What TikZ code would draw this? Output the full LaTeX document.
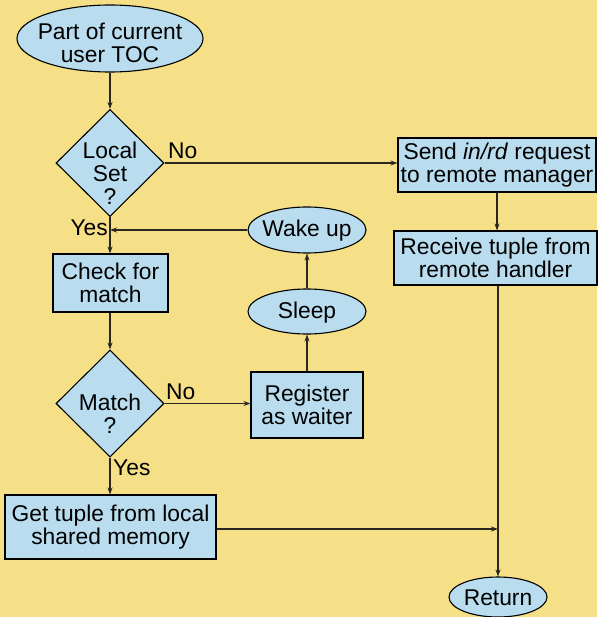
\documentclass[tikz,border=0pt]{standalone}
\usepackage{fontspec}
\setmainfont{Liberation Sans}
\usetikzlibrary{shapes.geometric,arrows.meta,calc}
\definecolor{paper}{RGB}{245,223,135}
\definecolor{boxfill}{RGB}{185,221,238}
\definecolor{ink}{RGB}{40,38,30}
\begin{document}
\begin{tikzpicture}[x=1pt,y=-1pt,
  every node/.style={font=\fontsize{22.8}{23}\selectfont, text=black},
  shapeline/.style={draw=black, line width=1.1pt, fill=boxfill},
  procbox/.style={shapeline, rectangle, inner sep=0pt, align=center, minimum width=#1},
  term/.style={shapeline, ellipse, inner sep=0pt},
  decision/.style={shapeline, diamond, inner sep=0pt, minimum width=108pt, minimum height=107pt},
  txt/.style={align=center, inner sep=0pt},
  flow/.style={draw=ink, line width=1.1pt, -{Stealth[length=7pt,width=5pt,inset=2.5pt]}},
  lab/.style={inner sep=0pt}]
\fill[paper] (0,0) rectangle (597,617);
\useasboundingbox (0,0) rectangle (597,617);

% terminals
\node[term, minimum width=186pt, minimum height=67pt] (start) at (110,38.5) {};
\node[txt] (starttext) at (110,43) {Part of current\\user TOC};
\node[term, minimum width=118pt, minimum height=46pt] (wake) at (307,230) {};
\node[txt] (waketext) at (307,231) {Wake up};
\node[term, minimum width=118pt, minimum height=45pt] (sleep) at (307,311.5) {};
\node[txt] (sleeptext) at (307,312.5) {Sleep};
\node[term, minimum width=98pt, minimum height=40pt] (return) at (498,597) {};
\node[txt] (returntext) at (498,598) {Return};

% decisions
\node[decision] (local) at (110,163) {};
\node[txt] (localtext) at (110,173) {Local\\Set\\?};
\node[decision] (match) at (110,403.5) {};
\node[txt] (matchtext) at (110,414) {Match\\?};

% process boxes
\node[procbox=198pt, minimum height=54pt] (send) at (497,165) {Send \textit{in/rd} request\\to remote manager};
\node[procbox=203pt, minimum height=54pt] (receive) at (495.5,258) {Receive tuple from\\remote handler};
\node[procbox=115pt, minimum height=58pt] (check) at (110.5,283) {Check for\\match};
\node[procbox=112pt, minimum height=66pt] (register) at (307,405) {Register\\as waiter};
\node[procbox=211pt, minimum height=64pt] (get) at (110.5,527) {Get tuple from local\\shared memory};

% connectors
\draw[flow] (start.south) -- (local.north);
\draw[flow] (local.east) -- (local.east -| send.west);
\node[lab, anchor=south west] (no1) at (168,159) {No};
\draw[flow] (send.south) -- (send.south |- receive.north);
\draw[flow] (return.north |- receive.south) -- (return.north);
\draw[flow] (local.south) -- (local.south |- check.north);
\draw[flow] (wake.west) -- (local.south |- wake.west);
\node[lab, anchor=south east] (yes1) at (108,236) {Yes};
\draw[flow] (check.south -| local.south) -- (match.north);
\draw[flow] (match.east) -- (match.east -| register.west);
\node[lab, anchor=south west] (no2) at (166,400) {No};
\draw[flow] (register.north) -- (sleep.south);
\draw[flow] (sleep.north) -- (wake.south);
\draw[flow] (match.south) -- (match.south |- get.north);
\node[lab, anchor=south west] (yes2) at (113,476) {Yes};
\draw[flow] (get.east |- 0,529) -- (return.north |- 0,529);
\end{tikzpicture}
\end{document}
